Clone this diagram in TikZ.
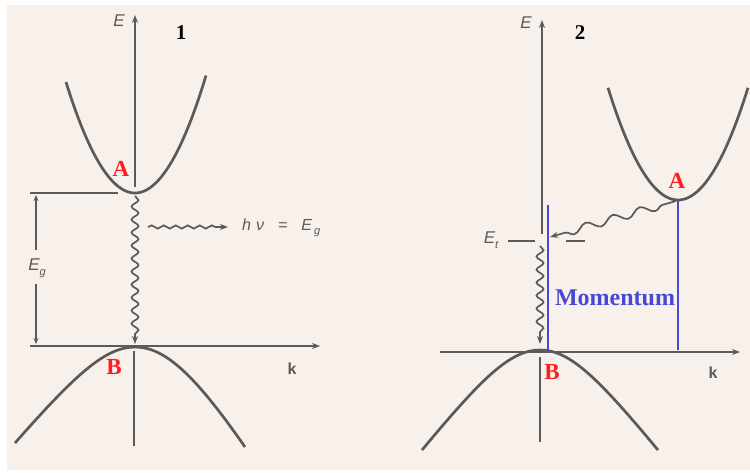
\documentclass[tikz,border=0pt]{standalone}
\usepackage{fontspec}
\setmainfont{Liberation Serif}
\setsansfont{Liberation Sans}
\usetikzlibrary{arrows.meta,decorations.pathmorphing}
\definecolor{bg}{HTML}{F8F0EA}
\definecolor{ln}{HTML}{5A5A5A}
\definecolor{redA}{HTML}{FF1E1E}
\definecolor{blueM}{HTML}{4848D8}
\begin{document}
\begin{tikzpicture}[x=1pt,y=-1pt,
  band/.style={draw=ln, line width=2.7pt},
  axis/.style={draw=ln, line width=1.7pt},
  tip/.style={-{Stealth[length=8pt,width=6pt]}},
  smalltip/.style={-{Stealth[length=6pt,width=5pt]}},
  wave/.style={draw=ln, line width=1.7pt, decorate,
    decoration={snake, amplitude=3.5pt, segment length=13pt, post length=8pt}},
  photon/.style={draw=ln, line width=1.7pt, decorate,
    decoration={snake, amplitude=1.6pt, segment length=12pt, post length=10pt}},
  longwave/.style={draw=ln, line width=1.7pt, decorate,
    decoration={snake, amplitude=4pt, segment length=28pt, pre length=14pt, post length=6pt}},
  axlbl/.style={font=\sffamily\itshape\fontsize{17}{17}\selectfont, text=ln, inner sep=0pt},
  klbl/.style={font=\sffamily\bfseries\fontsize{16}{16}\selectfont, text=ln, inner sep=0pt},
  letter/.style={font=\bfseries\fontsize{23}{23}\selectfont, text=redA, inner sep=0pt},
  num/.style={font=\bfseries\fontsize{21}{21}\selectfont, text=black, inner sep=0pt},
  blueline/.style={draw=blueM, line width=1.6pt}]
\useasboundingbox (0,0) rectangle (750,472);
\fill[white] (0,0) rectangle (750,472);
\fill[bg] (7,5) rectangle (750,470);

% ---------------- Panel 1 ----------------
\coordinate (A1) at (135,193);
\coordinate (B1) at (135,347);
\coordinate (E1top) at (135,15);
\coordinate (E1a) at (135,187);
\coordinate (E1b) at (134,351);
\coordinate (E1c) at (134,446);
\coordinate (k1l) at (30,346);
\coordinate (k1r) at (320,346);
\coordinate (g1l) at (30,193);
\coordinate (g1r) at (118,193);
\coordinate (w1s) at (135,196);
\coordinate (w1e) at (135,344);
\coordinate (p1s) at (148,227);
\coordinate (p1e) at (228,227);
\coordinate (eg1t) at (36,195);
\coordinate (eg1u) at (36,250);
\coordinate (eg1d) at (36,284);
\coordinate (eg1b) at (36,344);

\draw[band] plot[domain=-69:71,samples=60] ({135+\x},{193-0.0233*\x*\x});
\draw[band] (15,443) .. controls (75,375) and (105,347) .. (B1)
            .. controls (165,347) and (195,375) .. (245,447);
\draw[axis,tip] (E1a) -- (E1top);
\draw[axis] (E1b) -- (E1c);
\draw[axis,tip] (k1l) -- (k1r);
\draw[axis] (g1l) -- (g1r);
\node[axlbl] (Eg) at (37,268) {E\raisebox{-5pt}{\fontsize{11}{11}\selectfont g}};
\draw[axis,smalltip] (eg1u) -- (eg1t);
\draw[axis,smalltip] (eg1d) -- (eg1b);
\draw[wave,tip] (w1s) -- (w1e);
\draw[photon,tip] (p1s) -- (p1e);
\node[axlbl, anchor=west, font=\sffamily\itshape\fontsize{16}{16}\selectfont] (hv) at (242,228)
  {h\hspace{5pt}ν\hspace{14pt}=\hspace{14pt}E\hspace{2pt}\raisebox{-4pt}{\fontsize{11}{11}\selectfont g}};

\node[axlbl] (E1lbl) at (119,21) {E};
\node[num] (n1) at (181,33) {1};
\node[letter] (A1lbl) at (121,169) {A};
\node[letter] (B1lbl) at (114,367) {B};
\node[klbl] (k1lbl) at (292,369) {k};

% ---------------- Panel 2 ----------------
\coordinate (A2) at (678,200);
\coordinate (B2) at (540,350);
\coordinate (E2top) at (542,20);
\coordinate (E2a) at (542,234);
\coordinate (E2b) at (540,357);
\coordinate (E2c) at (540,442);
\coordinate (k2l) at (440,352);
\coordinate (k2r) at (740,352);
\coordinate (t1l) at (508,241);
\coordinate (t1r) at (535,241);
\coordinate (t2l) at (566,241);
\coordinate (t2r) at (585,241);
\coordinate (w2s) at (540,246);
\coordinate (w2e) at (540,344);
\coordinate (d2s) at (676,201);
\coordinate (d2e) at (550,237);
\coordinate (m1t) at (548,205);
\coordinate (m1b) at (548,350);
\coordinate (m2t) at (678,201);
\coordinate (m2b) at (678,350);

\draw[band] plot[domain=-70:70,samples=60] ({678+\x},{200-0.0229*\x*\x});
\draw[band] (422,450) .. controls (482,378) and (510,350) .. (B2)
            .. controls (570,350) and (598,378) .. (658,450);
\draw[axis,tip] (E2a) -- (E2top);
\draw[axis] (E2b) -- (E2c);
\draw[axis,tip] (k2l) -- (k2r);
\draw[axis] (t1l) -- (t1r);
\draw[axis] (t2l) -- (t2r);
\draw[wave,tip] (w2s) -- (w2e);
\draw[longwave,tip] (d2s) -- (d2e);
\draw[blueline] (m1t) -- (m1b);
\draw[blueline] (m2t) -- (m2b);
\node[font=\bfseries\fontsize{24}{24}\selectfont, text=blueM, inner sep=0pt] (mom) at (615,298) {Momentum};

\node[axlbl] (Etlbl) at (491,240) {E\raisebox{-5pt}{\fontsize{11}{11}\selectfont t}};
\node[axlbl] (E2lbl) at (526,23) {E};
\node[num] (n2) at (580,33) {2};
\node[letter] (A2lbl) at (677,181) {A};
\node[letter] (B2lbl) at (552,372) {B};
\node[klbl] (k2lbl) at (713,373) {k};
\end{tikzpicture}
\end{document}
